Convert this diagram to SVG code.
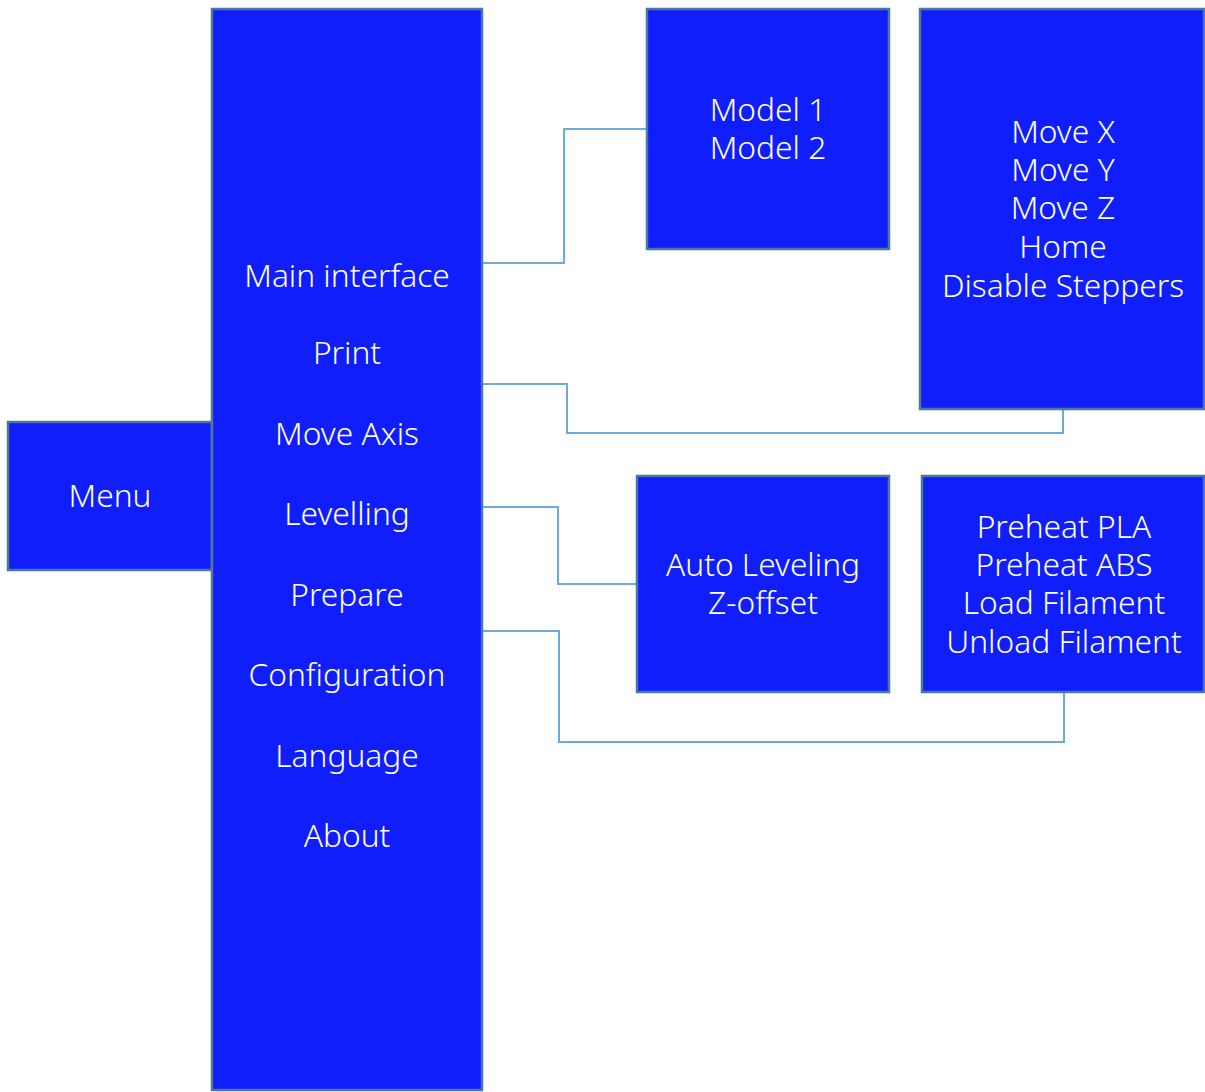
<svg xmlns="http://www.w3.org/2000/svg" width="1205" height="1092" viewBox="0 0 1205 1092">
<style>
.box{fill:#101efb;stroke:#4a78a0;stroke-width:2.5}
.t{font-family:"Noto Sans","Open Sans",sans-serif;font-weight:300;font-size:31.7px;fill:#ffffff;text-anchor:middle}
.c{fill:none;stroke:#6fa8dc;stroke-width:2}
</style>
<rect width="1205" height="1092" fill="#ffffff"/>
<g id="connectors">
<polyline class="c" points="482,263 564,263 564,129 647,129"/>
<polyline class="c" points="482,384 567,384 567,433 1063,433 1063,409"/>
<polyline class="c" points="482,507 558,507 558,584 637,584"/>
<polyline class="c" points="482,631 559,631 559,742 1064,742 1064,692"/>
</g>
<g id="menu">
<rect class="box" x="8" y="422" width="204" height="148"/>
<text class="t" x="110" y="507">Menu</text>
</g>
<g id="main">
<rect class="box" x="212" y="9" width="270" height="1081"/>
<text class="t" x="347" y="287">Main interface</text>
<text class="t" x="347" y="364">Print</text>
<text class="t" x="347" y="445">Move Axis</text>
<text class="t" x="347" y="525">Levelling</text>
<text class="t" x="347" y="606">Prepare</text>
<text class="t" x="347" y="686">Configuration</text>
<text class="t" x="347" y="767">Language</text>
<text class="t" x="347" y="847">About</text>
</g>
<g id="models">
<rect class="box" x="647" y="9" width="242" height="240"/>
<text class="t" x="768" y="121">Model 1</text>
<text class="t" x="768" y="159">Model 2</text>
</g>
<g id="moveaxis">
<rect class="box" x="920" y="9" width="284" height="400"/>
<text class="t" x="1063" y="143">Move X</text>
<text class="t" x="1063" y="181">Move Y</text>
<text class="t" x="1063" y="219">Move Z</text>
<text class="t" x="1063" y="258">Home</text>
<text class="t" x="1063" y="297">Disable Steppers</text>
</g>
<g id="levelling">
<rect class="box" x="637" y="476" width="252" height="216"/>
<text class="t" x="763" y="576">Auto Leveling</text>
<text class="t" x="763" y="614">Z-offset</text>
</g>
<g id="prepare">
<rect class="box" x="922" y="476" width="282" height="216"/>
<text class="t" x="1064" y="538">Preheat PLA</text>
<text class="t" x="1064" y="576">Preheat ABS</text>
<text class="t" x="1064" y="614">Load Filament</text>
<text class="t" x="1064" y="653">Unload Filament</text>
</g>
</svg>
